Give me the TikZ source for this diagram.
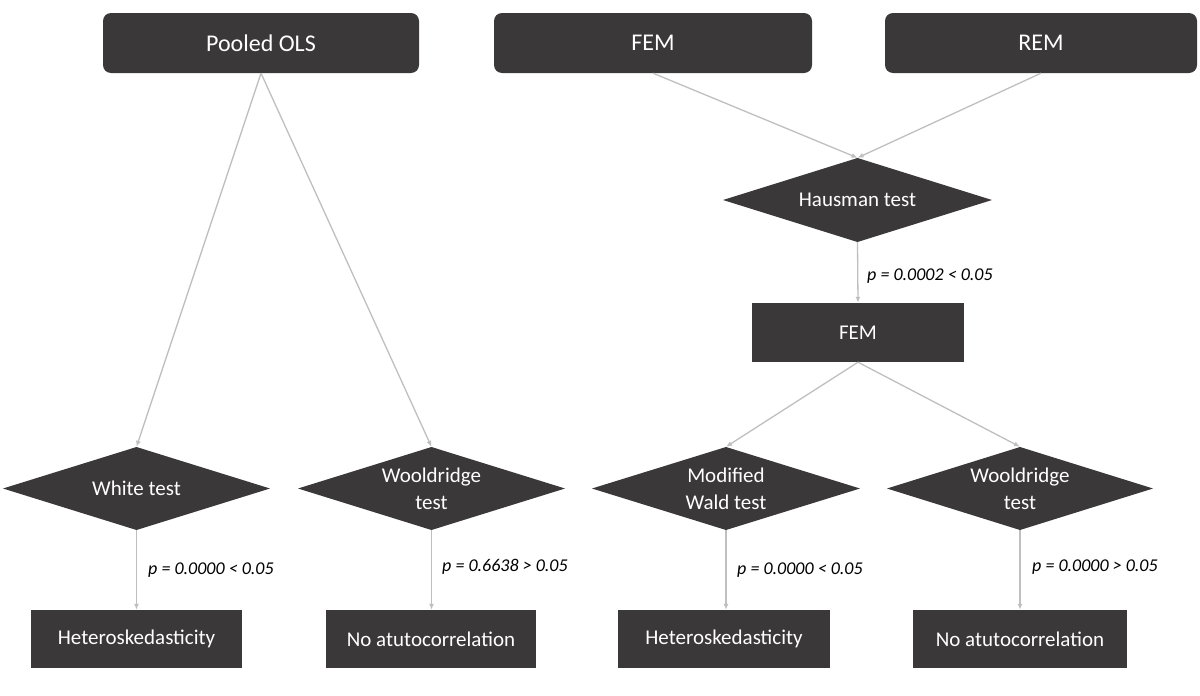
\documentclass[tikz,border=0pt]{standalone}
\usepackage{fontspec}
\setmainfont{Carlito}
\usetikzlibrary{arrows.meta}
\definecolor{boxfill}{HTML}{3A3838}
\definecolor{linec}{HTML}{BFBFBF}
\begin{document}
\begin{tikzpicture}[x=1pt,y=-1pt,
  topbox/.style={fill=boxfill, rounded corners=8pt, minimum height=60pt, inner sep=0pt, text=white, font=\fontsize{24}{28}\selectfont},
  resbox/.style={fill=boxfill, minimum height=58pt, inner sep=0pt, text=white, font=\fontsize{21}{26}\selectfont},
  dia/.style={minimum width=267pt, minimum height=83pt, inner sep=0pt, text=white, align=center, font=\fontsize{21}{27}\selectfont},
  plabel/.style={anchor=west, inner sep=0pt, font=\fontsize{18}{22}\selectfont\itshape},
  conn/.style={draw=linec, line width=1.3pt, -{Latex[length=6pt,width=5pt]}}]
\useasboundingbox (0,0) rectangle (1200,696);
% top boxes
\node[topbox, minimum width=316pt] (pols) at (261,43) {Pooled OLS};
\node[topbox, minimum width=318pt] (fem1) at (653,43) {FEM};
\node[topbox, minimum width=312pt] (rem) at (1041,43) {REM};
% diamond backgrounds (drawn first)
\coordinate (hausc) at (857.5,200);
\fill[boxfill] (723,200) -- (857.5,158) -- (992,200) -- (857.5,242) -- cycle;
\fill[boxfill] (3,488.5) -- (136.5,447) -- (270,488.5) -- (136.5,530) -- cycle;
\fill[boxfill] (298,488.5) -- (431.5,447) -- (565,488.5) -- (431.5,530) -- cycle;
\fill[boxfill] (592,488.5) -- (726,447) -- (860,488.5) -- (726,530) -- cycle;
\fill[boxfill] (887,488.5) -- (1020,447) -- (1153,488.5) -- (1020,530) -- cycle;
% diamond nodes
\node[dia, minimum width=269pt, minimum height=84pt] (haus) at (857.5,200) {Hausman test};
\node[dia] (white) at (136.5,488.5) {White test};
\node[dia] (wool1) at (431.5,488.5) {Wooldridge\\test};
\node[dia, minimum width=268pt] (wald) at (726,488.5) {Modified\\Wald test};
\node[dia, minimum width=266pt] (wool2) at (1020,488.5) {Wooldridge\\test};
% FEM middle
\node[resbox, minimum width=212pt, minimum height=59pt] (fem2) at (858,332.5) {FEM};
% result boxes
\node[resbox, minimum width=211pt] (het1) at (136.5,639) {Heteroskedasticity};
\node[resbox, minimum width=210pt] (noac1) at (431,639) {No atutocorrelation};
\node[resbox, minimum width=212pt] (het2) at (724,639) {Heteroskedasticity};
\node[resbox, minimum width=214pt] (noac2) at (1020,639) {No atutocorrelation};
% labels
\node[plabel] (lh) at (867,276) {p = 0.0002 < 0.05};
\node[plabel] (l1) at (148,570) {p = 0.0000 < 0.05};
\node[plabel] (l2) at (442,567) {p = 0.6638 > 0.05};
\node[plabel] (l3) at (737,570) {p = 0.0000 < 0.05};
\node[plabel] (l4) at (1032,567) {p = 0.0000 > 0.05};
% connectors
\draw[conn] (pols.south) -- (white.north);
\draw[conn] (pols.south) -- (wool1.north);
\draw[conn] (fem1.south) -- (haus.north);
\draw[conn] (rem.south) -- (haus.north);
\draw[conn] (haus.south) -- (fem2.north);
\draw[conn] (fem2.south) -- (wald.north);
\draw[conn] (fem2.south) -- (wool2.north);
\draw[conn] (white.south) -- (white.south |- het1.north);
\draw[conn] (wool1.south) -- (wool1.south |- noac1.north);
\draw[conn] (wald.south) -- (wald.south |- het2.north);
\draw[conn] (wool2.south) -- (wool2.south |- noac2.north);
\end{tikzpicture}
\end{document}
